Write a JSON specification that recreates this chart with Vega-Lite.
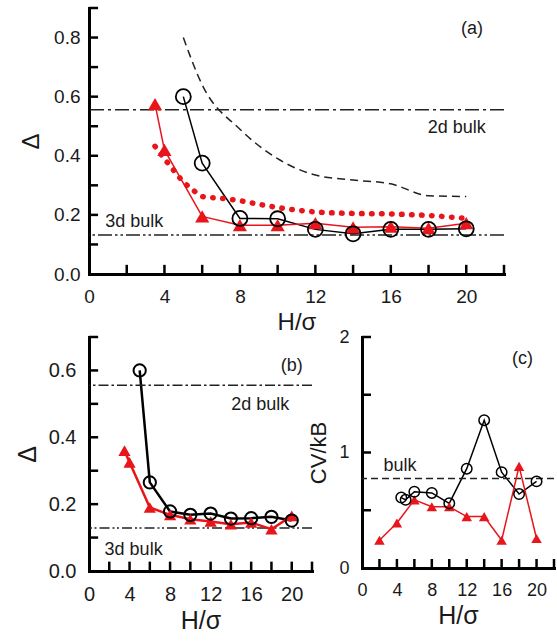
{
  "$schema": "https://vega.github.io/schema/vega-lite/v6.json",
  "padding": {"left": 15, "top": 6, "right": 0, "bottom": 0},
  "background": "white",
  "config": {
    "view": {"stroke": null},
    "font": "Liberation Sans",
    "axis": {
      "grid": false,
      "zindex": 1,
      "ticks": false,
      "domainColor": "#000",
      "domainWidth": 3,
      "domainCap": "square",
      "labelColor": "#1a1a1a",
      "labelFont": "Liberation Sans",
      "labelFlush": false,
      "labelOverlap": false,
      "titleFont": "Liberation Sans",
      "titleFontWeight": "normal",
      "titleColor": "#1a1a1a"
    }
  },
  "datasets": {
    "xt": [{"v": 2}, {"v": 4}, {"v": 6}, {"v": 8}, {"v": 10}, {"v": 12}, {"v": 14}, {"v": 16}, {"v": 18}, {"v": 20}, {"v": 22}],
    "a_yt": [{"v": 0.1}, {"v": 0.2}, {"v": 0.3}, {"v": 0.4}, {"v": 0.5}, {"v": 0.6}, {"v": 0.7}, {"v": 0.8}, {"v": 0.9}],
    "b_yt": [{"v": 0.1}, {"v": 0.2}, {"v": 0.3}, {"v": 0.4}, {"v": 0.5}, {"v": 0.6}, {"v": 0.7}],
    "c_yt": [{"v": 0.5}, {"v": 1}, {"v": 1.5}, {"v": 2}],
    "a_dash": [
      {"x": 5, "y": 0.80}, {"x": 6, "y": 0.64}, {"x": 8, "y": 0.49}, {"x": 10, "y": 0.39},
      {"x": 12, "y": 0.335}, {"x": 14, "y": 0.318}, {"x": 16, "y": 0.305}, {"x": 18, "y": 0.265}, {"x": 20, "y": 0.262}
    ],
    "a_circ": [
      {"x": 5, "y": 0.60}, {"x": 6, "y": 0.375}, {"x": 8, "y": 0.188}, {"x": 10, "y": 0.187},
      {"x": 12, "y": 0.151}, {"x": 14, "y": 0.136}, {"x": 16, "y": 0.151}, {"x": 18, "y": 0.151}, {"x": 20, "y": 0.153}
    ],
    "a_tri": [
      {"x": 3.5, "y": 0.575}, {"x": 4, "y": 0.42}, {"x": 6, "y": 0.195}, {"x": 8, "y": 0.165}, {"x": 10, "y": 0.165},
      {"x": 12, "y": 0.172}, {"x": 14, "y": 0.158}, {"x": 16, "y": 0.160}, {"x": 18, "y": 0.155}, {"x": 20, "y": 0.172}
    ],
    "a_dot": [
      {"x": 3.5, "y": 0.432}, {"x": 4, "y": 0.39}, {"x": 4.5, "y": 0.35}, {"x": 5, "y": 0.312}, {"x": 5.5, "y": 0.285},
      {"x": 6, "y": 0.262}, {"x": 7, "y": 0.256}, {"x": 8, "y": 0.248}, {"x": 9, "y": 0.236}, {"x": 10, "y": 0.225},
      {"x": 12, "y": 0.21}, {"x": 14, "y": 0.205}, {"x": 16, "y": 0.203}, {"x": 18, "y": 0.198}, {"x": 20, "y": 0.188}
    ],
    "a_bulk2d": [{"y": 0.556}],
    "a_bulk3d": [{"y": 0.132}],
    "a_text": [
      {"x": 20.3, "y": 0.83, "label": "(a)"},
      {"x": 19.5, "y": 0.494, "label": "2d bulk"},
      {"x": 2.4, "y": 0.177, "label": "3d bulk"}
    ],
    "b_circ": [
      {"x": 5, "y": 0.60}, {"x": 6, "y": 0.265}, {"x": 8, "y": 0.178}, {"x": 10, "y": 0.168},
      {"x": 12, "y": 0.172}, {"x": 14, "y": 0.157}, {"x": 16, "y": 0.158}, {"x": 18, "y": 0.162}, {"x": 20, "y": 0.151}
    ],
    "b_tri": [
      {"x": 3.5, "y": 0.36}, {"x": 4, "y": 0.325}, {"x": 6, "y": 0.19}, {"x": 8, "y": 0.168}, {"x": 10, "y": 0.155},
      {"x": 12, "y": 0.148}, {"x": 14, "y": 0.14}, {"x": 16, "y": 0.145}, {"x": 18, "y": 0.125}, {"x": 20, "y": 0.165}
    ],
    "b_bulk2d": [{"y": 0.556}],
    "b_bulk3d": [{"y": 0.129}],
    "b_text": [
      {"x": 20, "y": 0.613, "label": "(b)"},
      {"x": 16.9, "y": 0.496, "label": "2d bulk"},
      {"x": 4.4, "y": 0.0625, "label": "3d bulk"}
    ],
    "c_circ": [
      {"x": 4.5, "y": 0.61}, {"x": 5, "y": 0.59}, {"x": 6, "y": 0.66}, {"x": 8, "y": 0.65}, {"x": 10, "y": 0.56},
      {"x": 12, "y": 0.86}, {"x": 14, "y": 1.28}, {"x": 16, "y": 0.83}, {"x": 18, "y": 0.64}, {"x": 20, "y": 0.75}
    ],
    "c_tri": [
      {"x": 2, "y": 0.24}, {"x": 4, "y": 0.39}, {"x": 6, "y": 0.59}, {"x": 8, "y": 0.53}, {"x": 10, "y": 0.53},
      {"x": 12, "y": 0.445}, {"x": 14, "y": 0.445}, {"x": 16, "y": 0.24}, {"x": 18, "y": 0.88}, {"x": 20, "y": 0.255}
    ],
    "c_bulk": [{"y": 0.774}],
    "c_text": [
      {"x": 18.4, "y": 1.81, "label": "(c)"},
      {"x": 4.35, "y": 0.88, "label": "bulk"}
    ]
  },
  "bounds": "flush",
  "spacing": 63,
  "vconcat": [
    {
      "width": 415,
      "height": 266,
      "resolve": {"axis": {"x": "independent", "y": "independent"}},
      "layer": [
        {
          "data": {"name": "a_circ"},
          "mark": {"type": "line", "color": "#000", "strokeWidth": 1.5},
          "encoding": {
            "x": {"field": "x", "type": "quantitative", "scale": {"domain": [0, 22], "nice": false, "zero": false},
              "axis": {"orient": "bottom", "title": "H/σ", "values": [0, 4, 8, 12, 16, 20], "labelOverlap": false,
                "labelFontSize": 19, "labelPadding": 13, "titleFontSize": 24, "titlePadding": 4}},
            "y": {"field": "y", "type": "quantitative", "scale": {"domain": [0, 0.9], "nice": false, "zero": false},
              "axis": {"orient": "left", "title": "Δ", "values": [0, 0.2, 0.4, 0.6, 0.8], "format": ".1f", "labelOverlap": false,
                "labelFontSize": 19, "labelPadding": 9, "titleFontSize": 24, "titlePadding": 10}}
          }
        },
        {
          "data": {"name": "xt"},
          "mark": {"type": "rule", "color": "#000", "strokeWidth": 2.5},
          "encoding": {
            "x": {"field": "v", "type": "quantitative", "axis": null},
            "y": {"datum": 0, "type": "quantitative", "axis": null},
            "y2": {"datum": 0.031}
          }
        },
        {
          "data": {"name": "a_yt"},
          "mark": {"type": "rule", "color": "#000", "strokeWidth": 2.5},
          "encoding": {
            "y": {"field": "v", "type": "quantitative", "axis": null},
            "x": {"datum": 0, "type": "quantitative", "axis": null},
            "x2": {"datum": 0.48}
          }
        },
        {
          "data": {"name": "a_bulk2d"},
          "mark": {"type": "rule", "color": "#222", "strokeWidth": 1.5, "strokeDash": [14, 4, 3, 4]},
          "encoding": {"y": {"field": "y", "type": "quantitative", "axis": null}}
        },
        {
          "data": {"name": "a_bulk3d"},
          "mark": {"type": "rule", "color": "#222", "strokeWidth": 1.5, "strokeDash": [14, 3, 2.5, 3, 2.5, 3]},
          "encoding": {"y": {"field": "y", "type": "quantitative", "axis": null}}
        },
        {
          "data": {"name": "a_dash"},
          "mark": {"type": "line", "color": "#222", "strokeWidth": 1.5, "strokeDash": [8, 5], "interpolate": "monotone"},
          "encoding": {"x": {"field": "x", "type": "quantitative", "axis": null}, "y": {"field": "y", "type": "quantitative", "axis": null}}
        },
        {
          "data": {"name": "a_dot"},
          "mark": {"type": "line", "color": "#e8151b", "strokeWidth": 5.5, "strokeDash": [0.5, 9.5], "strokeCap": "round", "interpolate": "monotone"},
          "encoding": {"x": {"field": "x", "type": "quantitative", "axis": null}, "y": {"field": "y", "type": "quantitative", "axis": null}}
        },
        {
          "data": {"name": "a_tri"},
          "mark": {"type": "line", "color": "#e8151b", "strokeWidth": 1.5},
          "encoding": {"x": {"field": "x", "type": "quantitative", "axis": null}, "y": {"field": "y", "type": "quantitative", "axis": null}}
        },
        {
          "data": {"name": "a_tri"},
          "mark": {"type": "point", "shape": "triangle-up", "filled": true, "color": "#e8151b", "size": 200, "opacity": 1},
          "encoding": {"x": {"field": "x", "type": "quantitative", "axis": null}, "y": {"field": "y", "type": "quantitative", "axis": null}}
        },
        {
          "data": {"name": "a_circ"},
          "mark": {"type": "point", "shape": "circle", "filled": false, "color": "#000", "strokeWidth": 1.8, "size": 225, "opacity": 1},
          "encoding": {"x": {"field": "x", "type": "quantitative", "axis": null}, "y": {"field": "y", "type": "quantitative", "axis": null}}
        },
        {
          "data": {"name": "a_text"},
          "mark": {"type": "text", "fontSize": 18, "color": "#1a1a1a", "align": "center", "baseline": "middle"},
          "encoding": {
            "x": {"field": "x", "type": "quantitative", "axis": null},
            "y": {"field": "y", "type": "quantitative", "axis": null},
            "text": {"field": "label"}
          }
        }
      ]
    },
    {
      "bounds": "flush",
      "spacing": 50,
      "hconcat": [
        {
          "width": 223,
          "height": 234,
          "resolve": {"axis": {"x": "independent", "y": "independent"}},
          "layer": [
            {
              "data": {"name": "b_circ"},
              "mark": {"type": "line", "color": "#000", "strokeWidth": 2.5},
              "encoding": {
                "x": {"field": "x", "type": "quantitative", "scale": {"domain": [0, 22], "nice": false, "zero": false},
                  "axis": {"orient": "bottom", "title": "H/σ", "values": [0, 4, 8, 12, 16, 20], "labelOverlap": false,
                    "labelFontSize": 20, "labelPadding": 13, "titleFontSize": 25, "titlePadding": 4}},
                "y": {"field": "y", "type": "quantitative", "scale": {"domain": [0, 0.7], "nice": false, "zero": false},
                  "axis": {"orient": "left", "title": "Δ", "values": [0, 0.2, 0.4, 0.6], "format": ".1f", "labelOverlap": false,
                    "labelFontSize": 20, "labelPadding": 13, "titleFontSize": 25, "titlePadding": 8}}
              }
            },
            {
              "data": {"name": "xt"},
              "mark": {"type": "rule", "color": "#000", "strokeWidth": 2.5},
              "encoding": {
                "x": {"field": "v", "type": "quantitative", "axis": null},
                "y": {"datum": 0, "type": "quantitative", "axis": null},
                "y2": {"datum": 0.028}
              }
            },
            {
              "data": {"name": "b_yt"},
              "mark": {"type": "rule", "color": "#000", "strokeWidth": 2.5},
              "encoding": {
                "y": {"field": "v", "type": "quantitative", "axis": null},
                "x": {"datum": 0, "type": "quantitative", "axis": null},
                "x2": {"datum": 0.9}
              }
            },
            {
              "data": {"name": "b_bulk2d"},
              "mark": {"type": "rule", "color": "#222", "strokeWidth": 1.5, "strokeDash": [10, 3, 2.5, 3]},
              "encoding": {"y": {"field": "y", "type": "quantitative", "axis": null}}
            },
            {
              "data": {"name": "b_bulk3d"},
              "mark": {"type": "rule", "color": "#222", "strokeWidth": 1.5, "strokeDash": [10, 3, 2, 2.5, 2, 3]},
              "encoding": {"y": {"field": "y", "type": "quantitative", "axis": null}}
            },
            {
              "data": {"name": "b_tri"},
              "mark": {"type": "line", "color": "#e8151b", "strokeWidth": 2.5},
              "encoding": {"x": {"field": "x", "type": "quantitative", "axis": null}, "y": {"field": "y", "type": "quantitative", "axis": null}}
            },
            {
              "data": {"name": "b_tri"},
              "mark": {"type": "point", "shape": "triangle-up", "filled": true, "color": "#e8151b", "size": 150, "opacity": 1},
              "encoding": {"x": {"field": "x", "type": "quantitative", "axis": null}, "y": {"field": "y", "type": "quantitative", "axis": null}}
            },
            {
              "data": {"name": "b_circ"},
              "mark": {"type": "point", "shape": "circle", "filled": false, "color": "#000", "strokeWidth": 2, "size": 150, "opacity": 1},
              "encoding": {"x": {"field": "x", "type": "quantitative", "axis": null}, "y": {"field": "y", "type": "quantitative", "axis": null}}
            },
            {
              "data": {"name": "b_text"},
              "mark": {"type": "text", "fontSize": 18, "color": "#1a1a1a", "align": "center", "baseline": "middle"},
              "encoding": {
                "x": {"field": "x", "type": "quantitative", "axis": null},
                "y": {"field": "y", "type": "quantitative", "axis": null},
                "text": {"field": "label"}
              }
            }
          ]
        },
        {
          "width": 192,
          "height": 231,
          "resolve": {"axis": {"x": "independent", "y": "independent"}},
          "layer": [
            {
              "data": {"name": "c_circ"},
              "mark": {"type": "line", "color": "#000", "strokeWidth": 1.5},
              "encoding": {
                "x": {"field": "x", "type": "quantitative", "scale": {"domain": [0, 22], "nice": false, "zero": false},
                  "axis": {"orient": "bottom", "title": "H/σ", "values": [0, 4, 8, 12, 16, 20], "labelOverlap": false,
                    "labelFontSize": 18, "labelPadding": 13, "titleFontSize": 25, "titlePadding": 4}},
                "y": {"field": "y", "type": "quantitative", "scale": {"domain": [0, 2], "nice": false, "zero": false},
                  "axis": {"orient": "left", "title": "CV/kB", "values": [0, 0.5, 1, 1.5, 2],
                    "labelExpr": "datum.value % 1 == 0 ? format(datum.value, 'd') : ''", "labelOverlap": false,
                    "labelFontSize": 18, "labelPadding": 13, "titleFontSize": 22, "titlePadding": 8}}
              }
            },
            {
              "data": {"name": "xt"},
              "mark": {"type": "rule", "color": "#000", "strokeWidth": 2.5},
              "encoding": {
                "x": {"field": "v", "type": "quantitative", "axis": null},
                "y": {"datum": 0, "type": "quantitative", "axis": null},
                "y2": {"datum": 0.078}
              }
            },
            {
              "data": {"name": "c_yt"},
              "mark": {"type": "rule", "color": "#000", "strokeWidth": 2.5},
              "encoding": {
                "y": {"field": "v", "type": "quantitative", "axis": null},
                "x": {"datum": 0, "type": "quantitative", "axis": null},
                "x2": {"datum": 1.03}
              }
            },
            {
              "data": {"name": "c_bulk"},
              "mark": {"type": "rule", "color": "#222", "strokeWidth": 1.5, "strokeDash": [7, 4]},
              "encoding": {"y": {"field": "y", "type": "quantitative", "axis": null}}
            },
            {
              "data": {"name": "c_tri"},
              "mark": {"type": "line", "color": "#e8151b", "strokeWidth": 1.5},
              "encoding": {"x": {"field": "x", "type": "quantitative", "axis": null}, "y": {"field": "y", "type": "quantitative", "axis": null}}
            },
            {
              "data": {"name": "c_tri"},
              "mark": {"type": "point", "shape": "triangle-up", "filled": true, "color": "#e8151b", "size": 110, "opacity": 1},
              "encoding": {"x": {"field": "x", "type": "quantitative", "axis": null}, "y": {"field": "y", "type": "quantitative", "axis": null}}
            },
            {
              "data": {"name": "c_circ"},
              "mark": {"type": "point", "shape": "circle", "filled": false, "color": "#000", "strokeWidth": 1.5, "size": 110, "opacity": 1},
              "encoding": {"x": {"field": "x", "type": "quantitative", "axis": null}, "y": {"field": "y", "type": "quantitative", "axis": null}}
            },
            {
              "data": {"name": "c_text"},
              "mark": {"type": "text", "fontSize": 18, "color": "#1a1a1a", "align": "center", "baseline": "middle"},
              "encoding": {
                "x": {"field": "x", "type": "quantitative", "axis": null},
                "y": {"field": "y", "type": "quantitative", "axis": null},
                "text": {"field": "label"}
              }
            }
          ]
        }
      ]
    }
  ]
}
